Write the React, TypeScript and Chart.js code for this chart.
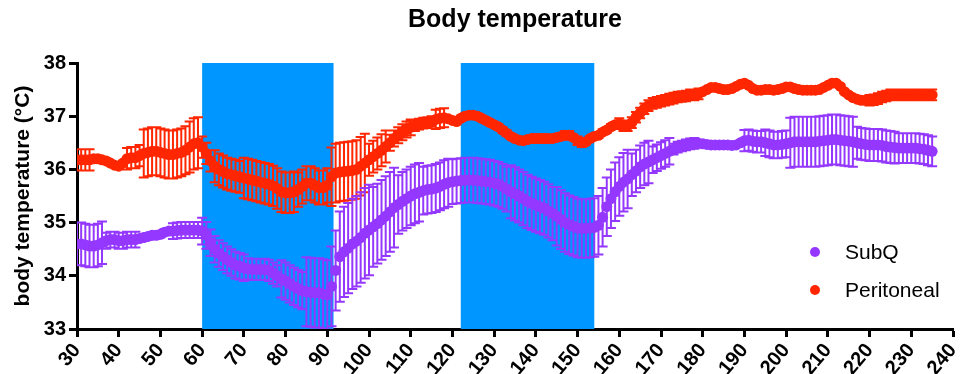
import React, { useEffect, useRef } from "react";
import { Chart, registerables } from "chart.js";

Chart.register(...registerables);

// Time (minutes) of the first sample; one sample per minute
const START_MIN = 30;

// SubQ mean body temperature (°C), minute 30..235
const subqMean = [
  34.6, 34.6, 34.58, 34.56, 34.56, 34.58, 34.62, 34.66, 34.68, 34.68,
  34.66, 34.66, 34.68, 34.68, 34.68, 34.7, 34.72, 34.74, 34.76, 34.76,
  34.78, 34.82, 34.84, 34.84, 34.85, 34.86, 34.86, 34.86, 34.86, 34.86,
  34.84, 34.76, 34.62, 34.5, 34.42, 34.36, 34.3, 34.25, 34.2, 34.18,
  34.15, 34.13, 34.12, 34.12, 34.12, 34.12, 34.1, 34.05, 34.0, 33.94,
  33.9, 33.85, 33.8, 33.76, 33.72, 33.7, 33.69, 33.68, 33.68, 33.66,
  33.64, 33.8, 34.1, 34.36, 34.45, 34.52, 34.6, 34.65, 34.72, 34.8,
  34.86, 34.92, 34.98, 35.05, 35.12, 35.2, 35.28, 35.34, 35.4, 35.45,
  35.5, 35.54, 35.57, 35.6, 35.62, 35.63, 35.65, 35.68, 35.72, 35.75,
  35.77, 35.78, 35.79, 35.8, 35.8, 35.8, 35.79, 35.78, 35.77, 35.76,
  35.74, 35.72, 35.68, 35.63, 35.58, 35.54, 35.5, 35.45, 35.4, 35.36,
  35.33, 35.3, 35.27, 35.22, 35.17, 35.12, 35.06, 35.0, 34.96, 34.93,
  34.9, 34.89, 34.89, 34.9, 34.91, 34.95, 35.1, 35.3, 35.45, 35.58,
  35.68, 35.76, 35.82, 35.9, 35.97, 36.05, 36.1, 36.14, 36.18, 36.22,
  36.26, 36.3, 36.34, 36.38, 36.42, 36.44, 36.46, 36.48, 36.49, 36.49,
  36.48, 36.47, 36.46, 36.46, 36.46, 36.46, 36.46, 36.45, 36.46, 36.5,
  36.54, 36.55, 36.53, 36.52, 36.52, 36.5, 36.48, 36.46, 36.46, 36.47,
  36.48, 36.5, 36.52, 36.52, 36.52, 36.52, 36.52, 36.52, 36.53, 36.54,
  36.55, 36.56, 36.56, 36.55, 36.54, 36.53, 36.52, 36.5, 36.48, 36.47,
  36.46, 36.46, 36.46, 36.45, 36.43, 36.42, 36.41, 36.4, 36.4, 36.4,
  36.4, 36.4, 36.39, 36.38, 36.36, 36.34,
];

// SubQ error (± °C)
const subqErr = [
  0.4, 0.4, 0.4, 0.4, 0.4, 0.4, 0.4, 0.15, 0.15, 0.15,
  0.15, 0.15, 0.15, 0.15, 0.15, 0.06, 0.06, 0.06, 0.06, 0.06,
  0.06, 0.06, 0.06, 0.15, 0.15, 0.15, 0.15, 0.15, 0.15, 0.15,
  0.25, 0.25, 0.25, 0.25, 0.25, 0.25, 0.25, 0.25, 0.25, 0.25,
  0.25, 0.2, 0.2, 0.2, 0.2, 0.2, 0.2, 0.2, 0.2, 0.35,
  0.35, 0.35, 0.35, 0.35, 0.35, 0.65, 0.65, 0.65, 0.65, 0.65,
  0.65, 0.75, 0.75, 0.85, 0.85, 0.85, 0.85, 0.85, 0.85, 0.85,
  0.85, 0.75, 0.75, 0.75, 0.75, 0.75, 0.75, 0.55, 0.55, 0.55,
  0.55, 0.55, 0.55, 0.45, 0.45, 0.45, 0.45, 0.45, 0.45, 0.45,
  0.42, 0.42, 0.42, 0.42, 0.42, 0.42, 0.42, 0.42, 0.42, 0.42,
  0.42, 0.42, 0.42, 0.42, 0.5, 0.5, 0.5, 0.5, 0.5, 0.5,
  0.5, 0.5, 0.5, 0.5, 0.5, 0.55, 0.55, 0.55, 0.55, 0.55,
  0.55, 0.55, 0.55, 0.55, 0.55, 0.55, 0.55, 0.55, 0.55, 0.55,
  0.55, 0.55, 0.55, 0.4, 0.4, 0.4, 0.4, 0.4, 0.25, 0.25,
  0.25, 0.25, 0.25, 0.1, 0.1, 0.1, 0.1, 0.1, 0.1, 0.03,
  0.03, 0.03, 0.03, 0.03, 0.03, 0.03, 0.03, 0.03, 0.03, 0.03,
  0.2, 0.2, 0.2, 0.2, 0.2, 0.25, 0.25, 0.25, 0.25, 0.25,
  0.25, 0.47, 0.47, 0.47, 0.47, 0.47, 0.47, 0.47, 0.47, 0.47,
  0.47, 0.47, 0.47, 0.47, 0.47, 0.47, 0.47, 0.3, 0.3, 0.3,
  0.3, 0.3, 0.3, 0.3, 0.3, 0.3, 0.3, 0.28, 0.28, 0.28,
  0.28, 0.28, 0.28, 0.28, 0.28, 0.28,
];

// Peritoneal mean body temperature (°C), minute 30..235
const periMean = [
  36.18, 36.18, 36.18, 36.18, 36.2, 36.2, 36.18, 36.16, 36.12, 36.08,
  36.06, 36.12, 36.2, 36.22, 36.22, 36.26, 36.3, 36.32, 36.34, 36.34,
  36.32, 36.3, 36.28, 36.28, 36.3, 36.32, 36.36, 36.42, 36.48, 36.5,
  36.42, 36.3, 36.16, 36.06, 36.0, 35.96, 35.92, 35.9, 35.88, 35.86,
  35.84, 35.82, 35.8, 35.78, 35.76, 35.74, 35.72, 35.69, 35.64, 35.58,
  35.56, 35.56, 35.58, 35.62, 35.68, 35.74, 35.74, 35.7, 35.66, 35.66,
  35.7, 35.86, 35.93, 35.95, 35.96, 35.97, 35.98, 36.0, 36.06, 36.12,
  36.18, 36.24, 36.3, 36.36, 36.43, 36.5, 36.58, 36.64, 36.7, 36.75,
  36.79, 36.82, 36.85, 36.87, 36.88, 36.9, 36.94, 36.96, 36.97, 36.95,
  36.92, 36.9, 36.96, 37.0, 37.02, 37.02, 37.0, 36.96, 36.92, 36.88,
  36.84, 36.8, 36.74, 36.68, 36.62, 36.58, 36.55, 36.54, 36.56, 36.58,
  36.58, 36.58, 36.58, 36.58, 36.58, 36.6, 36.62, 36.64, 36.64, 36.6,
  36.54, 36.5, 36.52, 36.58, 36.62, 36.64, 36.7, 36.74, 36.8, 36.84,
  36.86, 36.82, 36.82, 36.88, 36.98, 37.06, 37.14, 37.2, 37.24, 37.26,
  37.28, 37.3, 37.32, 37.34, 37.36, 37.37, 37.38, 37.4, 37.4, 37.42,
  37.46, 37.5, 37.54, 37.54, 37.52, 37.5, 37.5, 37.52, 37.56, 37.6,
  37.62, 37.58, 37.52, 37.49, 37.49, 37.5, 37.5, 37.49, 37.5, 37.52,
  37.55, 37.55, 37.52, 37.5, 37.49, 37.49, 37.49, 37.49, 37.5, 37.54,
  37.58, 37.62, 37.62, 37.56, 37.46, 37.4, 37.35, 37.32, 37.3, 37.3,
  37.3, 37.31, 37.33, 37.36, 37.38, 37.4, 37.4, 37.4, 37.4, 37.4,
  37.4, 37.4, 37.4, 37.4, 37.4, 37.4,
];

// Peritoneal error (± °C)
const periErr = [
  0.2, 0.2, 0.2, 0.2, 0.04, 0.04, 0.04, 0.04, 0.04, 0.04,
  0.04, 0.04, 0.2, 0.2, 0.2, 0.2, 0.45, 0.45, 0.45, 0.45,
  0.45, 0.45, 0.45, 0.45, 0.45, 0.45, 0.45, 0.48, 0.48, 0.48,
  0.2, 0.2, 0.2, 0.3, 0.3, 0.3, 0.3, 0.3, 0.3, 0.3,
  0.38, 0.38, 0.38, 0.38, 0.38, 0.38, 0.38, 0.38, 0.38, 0.38,
  0.38, 0.38, 0.38, 0.32, 0.32, 0.32, 0.32, 0.32, 0.32, 0.32,
  0.32, 0.55, 0.55, 0.55, 0.55, 0.55, 0.55, 0.55, 0.55, 0.55,
  0.3, 0.3, 0.3, 0.3, 0.3, 0.15, 0.15, 0.15, 0.15, 0.15,
  0.15, 0.1, 0.1, 0.1, 0.1, 0.1, 0.18, 0.18, 0.18, 0.05,
  0.05, 0.05, 0.05, 0.05, 0.05, 0.05, 0.05, 0.05, 0.05, 0.05,
  0.05, 0.05, 0.05, 0.05, 0.05, 0.05, 0.05, 0.05, 0.05, 0.05,
  0.08, 0.08, 0.08, 0.05, 0.05, 0.05, 0.05, 0.08, 0.08, 0.05,
  0.08, 0.08, 0.05, 0.05, 0.05, 0.05, 0.05, 0.05, 0.05, 0.05,
  0.1, 0.1, 0.1, 0.1, 0.1, 0.1, 0.1, 0.1, 0.1, 0.1,
  0.1, 0.1, 0.1, 0.1, 0.1, 0.1, 0.1, 0.1, 0.1, 0.1,
  0.03, 0.03, 0.03, 0.03, 0.03, 0.03, 0.03, 0.03, 0.03, 0.03,
  0.03, 0.03, 0.03, 0.03, 0.03, 0.03, 0.03, 0.03, 0.03, 0.03,
  0.03, 0.03, 0.03, 0.03, 0.03, 0.03, 0.03, 0.03, 0.03, 0.03,
  0.03, 0.03, 0.03, 0.03, 0.03, 0.03, 0.03, 0.03, 0.03, 0.03,
  0.1, 0.1, 0.1, 0.1, 0.1, 0.1, 0.1, 0.1, 0.1, 0.1,
  0.1, 0.1, 0.1, 0.1, 0.1, 0.1,
];

// Shaded stimulation windows (minutes)
const windowStarts = [60, 122];
const windowEnds = [91.5, 154];

const seriesNames = ["SubQ", "Peritoneal"];
const seriesColors = ["#9437FF", "#FF2600"];
const windowColor = "#0096FF";

const X_MIN = 30;
const X_MAX = 240;
const Y_MIN = 33;
const Y_MAX = 38;

const FONT = '"Liberation Sans", Arial, Helvetica, sans-serif';

const minutes = subqMean.map((_, i) => START_MIN + i);

const toPoints = (means: number[]) => means.map((v, i) => ({ x: minutes[i], y: v }));

const errArrays = [subqErr, periErr];
const meanArrays = [subqMean, periMean];

const backgroundAndErrorPlugin = {
  id: "bgAndErrors",
  beforeDatasetsDraw(chart: any) {
    const { ctx, chartArea, scales } = chart;
    const x = scales.x;
    const y = scales.y;
    ctx.save();
    ctx.beginPath();
    ctx.rect(chartArea.left, chartArea.top, chartArea.right - chartArea.left, chartArea.bottom - chartArea.top);
    ctx.clip();
    ctx.fillStyle = windowColor;
    for (let i = 0; i < windowStarts.length; i++) {
      const x0 = x.getPixelForValue(windowStarts[i]);
      const x1 = x.getPixelForValue(windowEnds[i]);
      const yT = y.getPixelForValue(Y_MAX);
      const yB = y.getPixelForValue(Y_MIN);
      ctx.fillRect(x0, yT, x1 - x0, yB - yT);
    }
    const capHalf = 5;
    for (let d = meanArrays.length - 1; d >= 0; d--) {
      const means = meanArrays[d];
      const errs = errArrays[d];
      ctx.strokeStyle = seriesColors[d];
      ctx.lineWidth = 2;
      ctx.beginPath();
      for (let i = 0; i < means.length; i++) {
        const px = x.getPixelForValue(minutes[i]);
        const yHi = y.getPixelForValue(means[i] + errs[i]);
        const yLo = y.getPixelForValue(means[i] - errs[i]);
        ctx.moveTo(px, yHi);
        ctx.lineTo(px, yLo);
        ctx.moveTo(px - capHalf, yHi);
        ctx.lineTo(px + capHalf, yHi);
        ctx.moveTo(px - capHalf, yLo);
        ctx.lineTo(px + capHalf, yLo);
      }
      ctx.stroke();
    }
    ctx.restore();
  },
  afterDraw(chart: any) {
    const { ctx, chartArea } = chart;
    ctx.save();
    const dotX = chartArea.right - 138;
    const textX = chartArea.right - 108;
    const rowsY = [chartArea.bottom - 77, chartArea.bottom - 39];
    ctx.font = `21px ${FONT}`;
    ctx.textBaseline = "middle";
    ctx.textAlign = "left";
    for (let i = 0; i < seriesNames.length; i++) {
      ctx.fillStyle = seriesColors[i];
      ctx.beginPath();
      ctx.arc(dotX, rowsY[i], 5, 0, Math.PI * 2);
      ctx.fill();
      ctx.fillStyle = "#000";
      ctx.fillText(seriesNames[i], textX, rowsY[i] + 1);
    }
    ctx.restore();
  },
};

export default function App() {
  const ref = useRef<HTMLCanvasElement | null>(null);

  useEffect(() => {
    if (!ref.current) return;
    const chart = new Chart(ref.current, {
      type: "scatter",
      data: {
        datasets: seriesNames.map((name, d) => ({
          label: name,
          data: toPoints(meanArrays[d]),
          showLine: false,
          pointRadius: 5.5,
          pointBorderWidth: 0,
          pointBackgroundColor: seriesColors[d],
          pointBorderColor: seriesColors[d],
          backgroundColor: seriesColors[d],
          borderColor: seriesColors[d],
        })),
      },
      options: {
        responsive: false,
        animation: false,
        devicePixelRatio: 1,
        events: [],
        layout: { padding: { left: 0, right: 8, top: 0, bottom: 0 } },
        plugins: {
          legend: { display: false },
          tooltip: { enabled: false },
          title: {
            display: true,
            fullSize: false,
            text: "Body temperature",
            color: "#000",
            font: { family: FONT, size: 25, weight: "bold" },
            padding: { top: 5, bottom: 28 },
          },
        },
        scales: {
          x: {
            type: "linear",
            min: X_MIN,
            max: X_MAX,
            afterFit: (s: any) => {
              s.height = 45;
              s.paddingLeft = 0;
              s.paddingRight = 0;
            },
            ticks: {
              stepSize: 10,
              autoSkip: false,
              minRotation: 50,
              maxRotation: 50,
              color: "#000",
              padding: 2,
              font: { family: FONT, size: 20, weight: "bold" },
            },
            grid: {
              display: true,
              drawOnChartArea: false,
              drawTicks: true,
              tickLength: 8,
              tickWidth: 3,
              tickColor: "#000",
            },
            border: { display: true, color: "#000", width: 3 },
          },
          y: {
            type: "linear",
            min: Y_MIN,
            max: Y_MAX,
            afterFit: (s: any) => {
              s.width = 77;
            },
            title: {
              display: true,
              text: "body temperature (°C)",
              color: "#000",
              font: { family: FONT, size: 21, weight: "bold" },
              padding: { top: 11, bottom: 0 },
            },
            ticks: {
              stepSize: 1,
              color: "#000",
              padding: 3,
              font: { family: FONT, size: 20, weight: "bold" },
            },
            grid: {
              display: true,
              drawOnChartArea: false,
              drawTicks: true,
              tickLength: 8,
              tickWidth: 3,
              tickColor: "#000",
            },
            border: { display: true, color: "#000", width: 3 },
          },
        },
      } as any,
      plugins: [backgroundAndErrorPlugin],
    });
    return () => chart.destroy();
  }, []);

  return (
    <div style={{ position: "absolute", left: 0, top: 0, width: 961, height: 374, background: "#fff" }}>
      <canvas ref={ref} width={961} height={374} style={{ width: 961, height: 374, display: "block" }} />
    </div>
  );
}
